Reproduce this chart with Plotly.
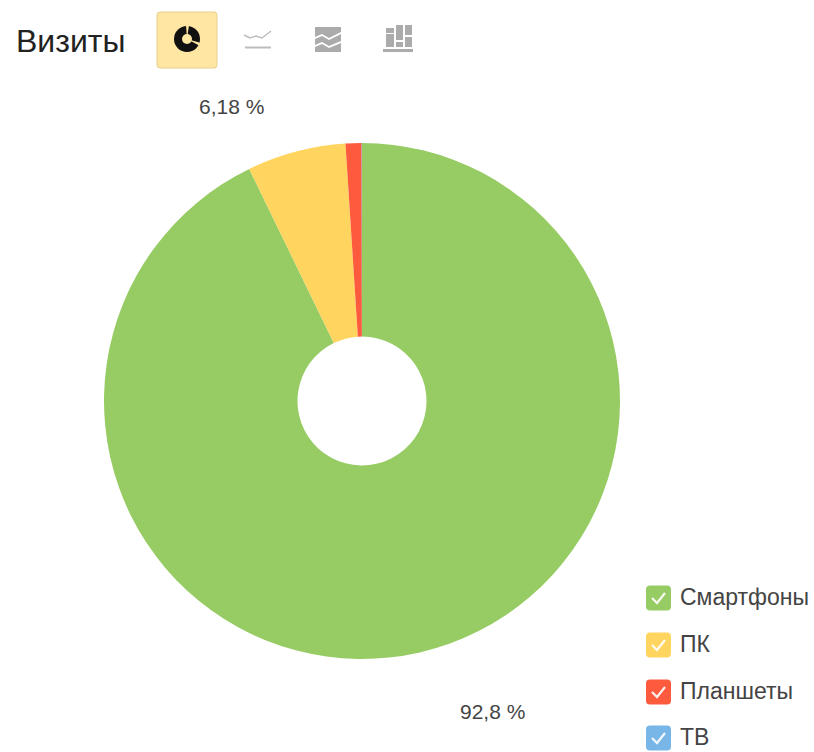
import plotly.graph_objects as go

categories = ["Смартфоны", "ПК", "Планшеты", "ТВ"]
values = [92.8, 6.18, 1.0, 0.02]
colors = ["#97CC64", "#FFD55F", "#FD5A3E", "#77B6E7"]
title = "Визиты"
pct_labels = ["92,8 %", "6,18 %"]

W, H = 814, 752
FONT = "Liberation Sans"
BTN = "#FFE7A3"
ICON = "#ABABAB"

fig = go.Figure()
fig.add_trace(go.Pie(
    labels=categories, values=values, sort=False, direction="clockwise", rotation=0,
    hole=0.25, marker=dict(colors=colors, line=dict(width=0)), textinfo="none",
    showlegend=False, hoverinfo="label+percent",
    domain=dict(x=[104 / W, 620 / W], y=[1 - 659 / H, 1 - 143 / H]),
))

shapes = []
annotations = []


def px_shape(**kw):
    shapes.append(dict(xref="x", yref="y", layer="above", **kw))


def rrect(x0, y0, x1, y1, r):
    return (f"M{x0+r},{y0} L{x1-r},{y0} Q{x1},{y0} {x1},{y0+r} L{x1},{y1-r} Q{x1},{y1} {x1-r},{y1} "
            f"L{x0+r},{y1} Q{x0},{y1} {x0},{y1-r} L{x0},{y0+r} Q{x0},{y0} {x0+r},{y0} Z")


def text(x, y, s, size, color, anchor="left"):
    annotations.append(dict(xref="x", yref="y", x=x, y=y, text=s, showarrow=False, xanchor=anchor,
                            yanchor="middle", font=dict(family=FONT, size=size, color=color)))


# Header
text(14, 41, title, 32, "#222222")
px_shape(type="path", path=rrect(157, 12, 217, 68, 3), fillcolor=BTN, line=dict(color="#E8CE8A", width=1))
# donut icon
px_shape(type="circle", x0=174, y0=26, x1=200, y1=52, fillcolor="#111111", line=dict(width=0))
px_shape(type="circle", x0=182, y0=34, x1=192, y1=44, fillcolor=BTN, line=dict(width=0))
px_shape(type="path", path="M187,39 L186,25 L189,25 Z", fillcolor=BTN, line=dict(width=0))
px_shape(type="path", path="M187,39 L201,43 L200,46 Z", fillcolor=BTN, line=dict(width=0))
# line icon
px_shape(type="path", path="M244,35 L250,38 L256,36 L262,38 L271,31", line=dict(color="#BDBDBD", width=1.5))
px_shape(type="path", path="M245,47.5 L271,47.5", line=dict(color="#BDBDBD", width=2))
# area icon
for d in ("M315,27 L341,27 L341,32 L329,38 L322,34 L315,37 Z",
          "M315,39 L322,36 L329,40 L341,34 L341,41 L329,46 L322,42 L315,45 Z",
          "M315,47 L322,44 L329,48 L341,43 L341,52 L315,52 Z"):
    px_shape(type="path", path=d, fillcolor=ICON, line=dict(width=0))
# stacked bars icon
for x0, x1, y0, y1 in ((386, 394, 28, 33), (386, 394, 34, 47), (396, 403, 25, 40), (396, 403, 42, 47),
                       (405, 412, 25, 35), (405, 412, 37, 47)):
    px_shape(type="rect", x0=x0, x1=x1, y0=y0, y1=y1, fillcolor=ICON, line=dict(width=0))
px_shape(type="rect", x0=383, x1=413, y0=49, y1=52, fillcolor=ICON, line=dict(width=0))

# Percentage labels
text(231, 106, pct_labels[1], 21, "#444444", "center")
text(492, 711, pct_labels[0], 21, "#444444", "center")

# Legend
for name, color, cy in zip(categories, colors, [598, 645, 692, 738]):
    px_shape(type="path", path=rrect(646, cy - 12.5, 671, cy + 12.5, 4), fillcolor=color, line=dict(width=0))
    px_shape(type="path", path=f"M652,{cy} L657,{cy+5} L665,{cy-5}", line=dict(color="rgba(255,255,255,0.9)", width=2.2))
    text(678, cy - 1, name, 23, "#444444")

fig.update_layout(
    width=W, height=H, margin=dict(l=0, r=0, t=0, b=0),
    paper_bgcolor="#FFFFFF", plot_bgcolor="rgba(0,0,0,0)",
    xaxis=dict(range=[0, W], visible=False, domain=[0, 1], fixedrange=True),
    yaxis=dict(range=[H, 0], visible=False, domain=[0, 1], fixedrange=True),
    shapes=shapes, annotations=annotations, showlegend=False,
)
fig.add_trace(go.Scatter(x=[0], y=[0], mode="markers", marker=dict(opacity=0), hoverinfo="skip", showlegend=False))

fig.write_html("out.html", config=dict(displayModeBar=False),
               post_script="document.body.style.margin='0';document.documentElement.style.overflow='hidden';")
